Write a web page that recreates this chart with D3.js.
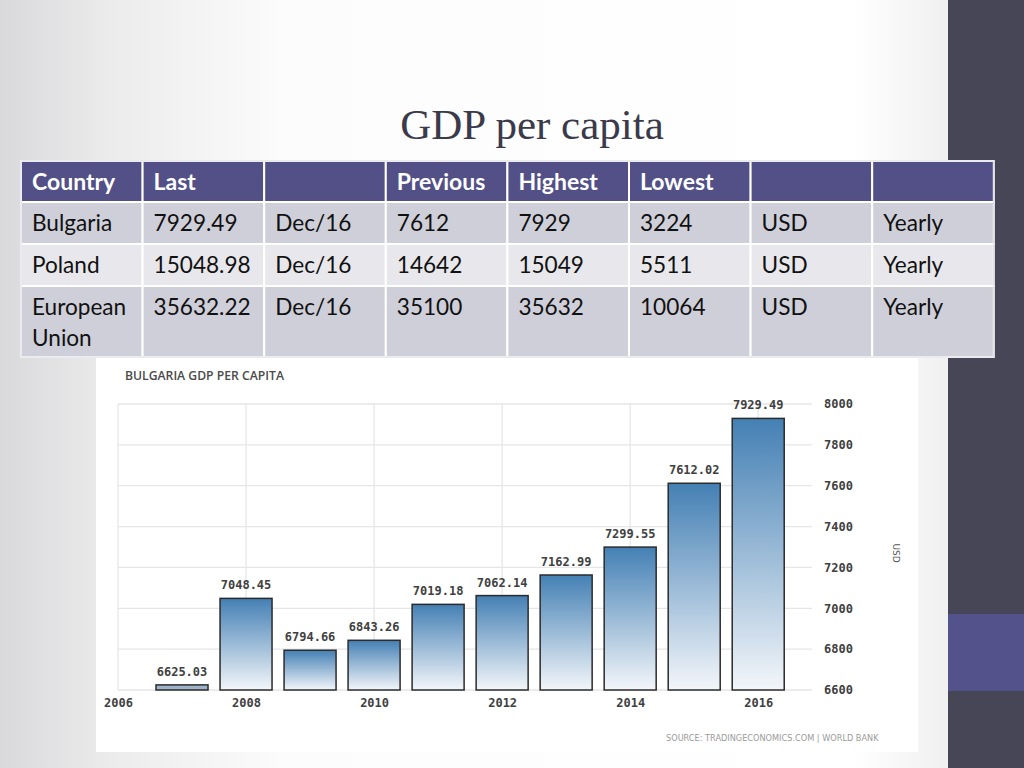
<!DOCTYPE html>
<html>
<head>
<meta charset="utf-8">
<script src="https://cdn.jsdelivr.net/npm/d3@7"></script>
<style>
  html, body { margin: 0; padding: 0; background: #fff; }
  svg { display: block; }
</style>
</head>
<body>
<svg id="slide" width="1024" height="768"></svg>
<script>
// ---------- DATA ----------
const tableHeaders = ["Country", "Last", "", "Previous", "Highest", "Lowest", "", ""];
const countries = ["Bulgaria", "Poland", "European\nUnion"];
const lastValues = ["7929.49", "15048.98", "35632.22"];
const lastDates = ["Dec/16", "Dec/16", "Dec/16"];
const previousValues = ["7612", "14642", "35100"];
const highestValues = ["7929", "15049", "35632"];
const lowestValues = ["3224", "5511", "10064"];
const units = ["USD", "USD", "USD"];
const frequencies = ["Yearly", "Yearly", "Yearly"];

const years = [2007, 2008, 2009, 2010, 2011, 2012, 2013, 2014, 2015, 2016];
const gdpValues = [6625.03, 7048.45, 6794.66, 6843.26, 7019.18, 7062.14, 7162.99, 7299.55, 7612.02, 7929.49];
const yTickValues = [6600, 6800, 7000, 7200, 7400, 7600, 7800, 8000];
const xTickValues = [2006, 2008, 2010, 2012, 2014, 2016];

const slideTitle = "GDP per capita";
const chartTitle = "BULGARIA GDP PER CAPITA";
const unitLabel = "USD";
const sourceText = "SOURCE: TRADINGECONOMICS.COM | WORLD BANK";

// ---------- SLIDE BACKGROUND ----------
const svg = d3.select("#slide");
const defs = svg.append("defs");

const bg = defs.append("linearGradient").attr("id", "bgGrad")
  .attr("gradientUnits", "userSpaceOnUse")
  .attr("x1", 0).attr("y1", 0).attr("x2", 948).attr("y2", 0);
bg.append("stop").attr("offset", 0).attr("stop-color", "#d9d9db");
bg.append("stop").attr("offset", 0.12).attr("stop-color", "#ececed");
bg.append("stop").attr("offset", 0.3).attr("stop-color", "#fcfcfc");
bg.append("stop").attr("offset", 0.9).attr("stop-color", "#ffffff");
bg.append("stop").attr("offset", 1).attr("stop-color", "#f0f0f0");

svg.append("rect").attr("width", 1024).attr("height", 768).attr("fill", "url(#bgGrad)");

// sidebar
svg.append("rect").attr("x", 948).attr("y", 0).attr("width", 76).attr("height", 768).attr("fill", "#464656");
svg.append("rect").attr("x", 948).attr("y", 614).attr("width", 76).attr("height", 77).attr("fill", "#54528a");

// title
svg.append("text").text(slideTitle)
  .attr("x", 532).attr("y", 139)
  .attr("text-anchor", "middle")
  .attr("font-family", "'Liberation Serif', 'DejaVu Serif', serif")
  .attr("font-size", 43)
  .attr("fill", "#3a3a4a");

// ---------- TABLE ----------
const colX = d3.range(9).map(i => 21 + i * 121.6);
const rowsY = [[161, 202], [202, 244], [244, 286], [286, 357]];
const bodyRows = countries.map((c, i) => [c, lastValues[i], lastDates[i], previousValues[i],
  highestValues[i], lowestValues[i], units[i], frequencies[i]]);
const allRows = [tableHeaders].concat(bodyRows);
const rowFill = ["#525086", "#cfcfd9", "#e8e8ec", "#cfcfd9"];

const tbl = svg.append("g");
allRows.forEach((row, r) => {
  row.forEach((cell, c) => {
    const x0 = colX[c], x1 = colX[c + 1];
    const y0 = rowsY[r][0], y1 = rowsY[r][1];
    tbl.append("rect")
      .attr("x", x0).attr("y", y0).attr("width", x1 - x0).attr("height", y1 - y0)
      .attr("fill", rowFill[r]).attr("stroke", "#ffffff").attr("stroke-width", 2);
    const lines = cell.split("\n");
    const t = tbl.append("text")
      .attr("x", x0 + 11).attr("y", y0 + 29)
      .attr("font-family", "Lato, 'Open Sans', sans-serif")
      .attr("font-size", r === 0 ? 23 : 22.6)
      .attr("font-weight", r === 0 ? "bold" : "normal")
      .attr("fill", r === 0 ? "#ffffff" : "#111111");
    lines.forEach((ln, k) => {
      t.append("tspan").attr("x", x0 + 11).attr("dy", k === 0 ? 0 : 31).text(ln);
    });
  });
});
tbl.append("rect").attr("x", colX[0]).attr("y", 161).attr("width", colX[8] - colX[0]).attr("height", 196)
  .attr("fill", "none").attr("stroke", "#d8d8e0").attr("stroke-width", 1);

// ---------- CHART ----------
svg.append("rect").attr("x", 96).attr("y", 358).attr("width", 822).attr("height", 394).attr("fill", "#ffffff");

svg.append("text").text(chartTitle)
  .attr("x", 125).attr("y", 380)
  .attr("font-family", "'Open Sans', 'DejaVu Sans', sans-serif")
  .attr("font-size", 12.2).attr("font-weight", 600)
  .attr("fill", "#4a4a4a");

const plotLeft = 118, plotRight = 812, plotTop = 404, plotBottom = 690;
const x = d3.scaleLinear().domain([2006, 2016.84]).range([plotLeft, plotRight]);
const y = d3.scaleLinear().domain([6600, 8000]).range([plotBottom, plotTop]);
const barW = 52;

// gridlines
const grid = svg.append("g");
grid.selectAll("line.h").data(yTickValues).enter().append("line")
  .attr("x1", plotLeft).attr("x2", plotRight)
  .attr("y1", d => y(d)).attr("y2", d => y(d))
  .attr("stroke", "#e6e6e6").attr("stroke-width", 1.3);
grid.selectAll("line.v").data(xTickValues).enter().append("line")
  .attr("x1", d => x(d)).attr("x2", d => x(d))
  .attr("y1", plotTop).attr("y2", plotBottom)
  .attr("stroke", "#e6e6e6").attr("stroke-width", 1.3);

// bar gradient
const bg2 = defs.append("linearGradient").attr("id", "barGrad")
  .attr("x1", 0).attr("y1", 0).attr("x2", 0).attr("y2", 1);
bg2.append("stop").attr("offset", 0).attr("stop-color", "#4480b4");
bg2.append("stop").attr("offset", 1).attr("stop-color", "#f3f6fa");

svg.append("g").selectAll("rect").data(years).enter().append("rect")
  .attr("x", (d) => x(d) - barW / 2)
  .attr("y", (d, i) => y(gdpValues[i]))
  .attr("width", barW)
  .attr("height", (d, i) => plotBottom - y(gdpValues[i]))
  .attr("fill", (d, i) => (plotBottom - y(gdpValues[i]) < 8) ? "#9db3c9" : "url(#barGrad)")
  .attr("stroke", "#2b2b2b").attr("stroke-width", 1.5);

// value labels
svg.append("g").selectAll("text").data(years).enter().append("text")
  .attr("x", d => x(d))
  .attr("y", (d, i) => y(gdpValues[i]) - 9)
  .attr("text-anchor", "middle")
  .attr("font-family", "'DejaVu Sans Mono', monospace")
  .attr("font-size", 12).attr("font-weight", "bold")
  .attr("fill", "#404040")
  .text((d, i) => gdpValues[i].toFixed(2));

// axes
const xAxis = d3.axisBottom(x).tickValues(xTickValues).tickFormat(d3.format("d")).tickSize(0).tickPadding(8);
const gx = svg.append("g").attr("transform", `translate(0,${plotBottom})`).call(xAxis);
gx.select(".domain").remove();
gx.selectAll("text").attr("font-family", "'DejaVu Sans Mono', monospace")
  .attr("font-size", 12).attr("font-weight", "bold").attr("fill", "#404040");

const yAxis = d3.axisRight(y).tickValues(yTickValues).tickFormat(d3.format("d")).tickSize(0).tickPadding(12);
const gy = svg.append("g").attr("transform", `translate(${plotRight},0)`).call(yAxis);
gy.select(".domain").remove();
gy.selectAll("text").attr("font-family", "'DejaVu Sans Mono', monospace")
  .attr("font-size", 12).attr("font-weight", "bold").attr("fill", "#404040");

// unit label
svg.append("text").text(unitLabel)
  .attr("transform", "translate(893,553) rotate(90)")
  .attr("text-anchor", "middle")
  .attr("font-family", "'DejaVu Sans', sans-serif")
  .attr("font-size", 9).attr("fill", "#555");

// source
svg.append("text").text(sourceText)
  .attr("x", 666).attr("y", 741)
  .attr("font-family", "'DejaVu Sans Condensed', 'DejaVu Sans', sans-serif")
  .attr("font-size", 9.1).attr("fill", "#9a9a9a");
</script>
</body>
</html>
